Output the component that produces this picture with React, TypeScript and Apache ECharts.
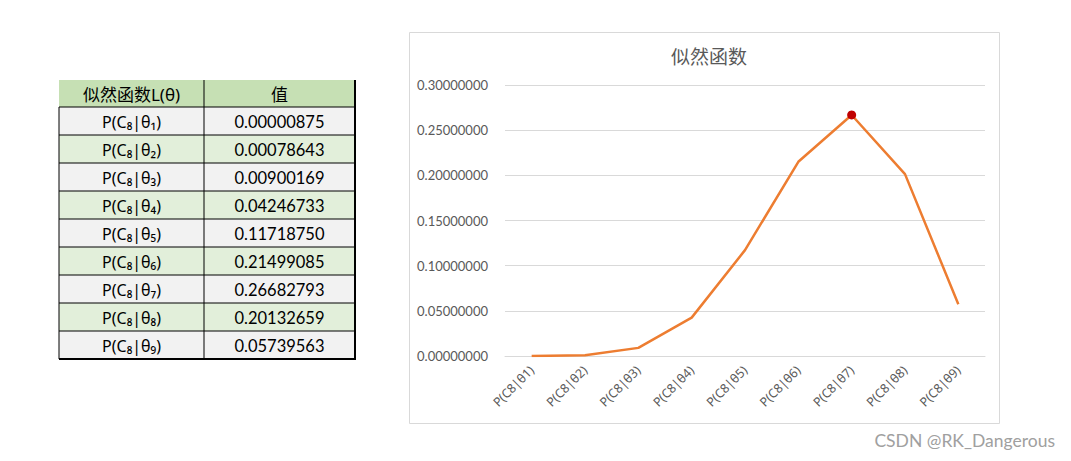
import React, { useEffect, useRef } from "react";
import * as echarts from "echarts";

const categories = ["P(C8|θ1)", "P(C8|θ2)", "P(C8|θ3)", "P(C8|θ4)", "P(C8|θ5)", "P(C8|θ6)", "P(C8|θ7)", "P(C8|θ8)", "P(C8|θ9)"];
const tableLabels = ["P(C₈|θ₁)", "P(C₈|θ₂)", "P(C₈|θ₃)", "P(C₈|θ₄)", "P(C₈|θ₅)", "P(C₈|θ₆)", "P(C₈|θ₇)", "P(C₈|θ₈)", "P(C₈|θ₉)"];
const values = [0.00000875, 0.00078643, 0.00900169, 0.04246733, 0.1171875, 0.21499085, 0.26682793, 0.20132659, 0.05739563];
const tableHeaders = ["似然函数L(θ)", "值"];
const highlightIndex = 6;
const title = "似然函数";
const watermark = "CSDN @RK_Dangerous";

const FONT = "Lato, 'Noto Sans', 'Noto Sans CJK SC', sans-serif";
const FONT2 = "'Noto Sans', 'Noto Sans CJK SC', sans-serif";

export default function App() {
  const ref = useRef<HTMLDivElement>(null);
  useEffect(() => {
    if (!ref.current) return;
    const chart = echarts.init(ref.current, null, { renderer: "svg" });

    const tx = 59, tw1 = 145, tw2 = 151, ty = 80, hh = 27, rh = 28;
    const g: any[] = [];
    g.push({ type: "rect", shape: { x: tx, y: ty, width: tw1 + tw2, height: hh }, style: { fill: "#c6e0b4" } });
    tableHeaders.forEach((h, i) => {
      g.push({
        type: "text",
        x: i === 0 ? tx + tw1 / 2 : tx + tw1 + tw2 / 2,
        y: ty + hh / 2 + 1,
        style: { text: h, fill: "#000", font: `17px ${FONT2}`, textAlign: "center", textVerticalAlign: "middle" },
      });
    });
    tableLabels.forEach((lab, i) => {
      const y = ty + hh + i * rh;
      g.push({ type: "rect", shape: { x: tx, y, width: tw1 + tw2, height: rh }, style: { fill: i % 2 === 0 ? "#f2f2f2" : "#e2efda" } });
      g.push({ type: "text", x: tx + tw1 / 2, y: y + rh / 2 + 1, style: { text: lab, fill: "#000", font: `16px ${FONT2}`, textAlign: "center", textVerticalAlign: "middle" } });
      g.push({ type: "text", x: tx + tw1 + tw2 / 2, y: y + rh / 2 + 1, style: { text: values[i].toFixed(8), fill: "#000", font: `16.5px ${FONT}`, textAlign: "center", textVerticalAlign: "middle" } });
    });
    const totalH = hh + rh * tableLabels.length;
    for (let i = 0; i <= tableLabels.length; i++) {
      const y = ty + hh + i * rh;
      g.push({ type: "line", shape: { x1: tx, y1: y, x2: tx + tw1 + tw2, y2: y }, style: { stroke: "#000", lineWidth: i === tableLabels.length ? 2 : 1 } });
    }
    g.push({ type: "line", shape: { x1: tx + tw1, y1: ty, x2: tx + tw1, y2: ty + totalH }, style: { stroke: "#000", lineWidth: 1 } });
    g.push({ type: "line", shape: { x1: tx, y1: ty + hh, x2: tx, y2: ty + totalH }, style: { stroke: "#000", lineWidth: 1 } });
    g.push({ type: "line", shape: { x1: tx + tw1 + tw2, y1: ty, x2: tx + tw1 + tw2, y2: ty + totalH + 1 }, style: { stroke: "#000", lineWidth: 2 } });
    g.push({ type: "rect", shape: { x: 409.5, y: 32.5, width: 590, height: 391 }, style: { fill: "none", stroke: "#d9d9d9", lineWidth: 1 }, z: -1 });
    g.push({ type: "text", right: 16, top: 432, style: { text: watermark, fill: "#a0a0a0", font: `17.5px ${FONT}` } });

    chart.setOption({
      animation: false,
      title: {
        text: title,
        left: 666,
        top: 42,
        textStyle: { color: "#595959", fontSize: 19, fontWeight: "normal", fontFamily: FONT2 },
      },
      grid: { left: 505, right: 86, top: 85, bottom: 105 },
      xAxis: {
        type: "category",
        data: categories,
        boundaryGap: true,
        axisLine: { show: true, lineStyle: { color: "#d9d9d9" } },
        axisTick: { show: false },
        axisLabel: { rotate: 45, color: "#595959", fontSize: 12.5, fontFamily: FONT2, margin: 12 },
      },
      yAxis: {
        type: "value",
        min: 0,
        max: 0.3,
        interval: 0.05,
        axisLine: { show: false },
        axisTick: { show: false },
        splitLine: { lineStyle: { color: "#d9d9d9" } },
        axisLabel: { color: "#595959", fontSize: 13, fontFamily: FONT, margin: 17, formatter: (v: number) => v.toFixed(8) },
      },
      series: [
        {
          type: "line",
          data: values.map((v, i) =>
            i === highlightIndex
              ? { value: v, symbol: "circle", symbolSize: 9, itemStyle: { color: "#c00000" } }
              : { value: v, symbol: "none" }
          ),
          showSymbol: true,
          lineStyle: { color: "#ed7d31", width: 2.5 },
          itemStyle: { color: "#ed7d31" },
          z: 3,
        },
      ],
      graphic: g,
    });
    return () => chart.dispose();
  }, []);
  return <div ref={ref} style={{ position: "absolute", left: 0, top: 0, width: 1071, height: 461, background: "#fff" }} />;
}
